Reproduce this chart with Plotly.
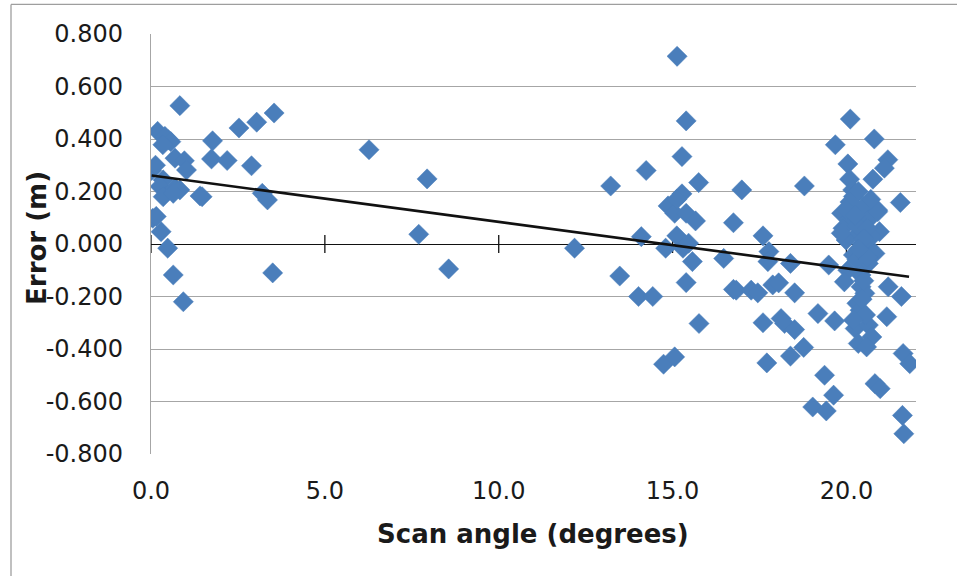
import plotly.graph_objects as go

# ---- data ----
scan_angle = [
    0.83, 0.19, 0.50, 0.40, 0.57, 0.34, 2.53, 3.04, 3.54, 1.77, 1.74, 2.19, 2.89,
    0.69, 0.96, 1.02, 0.02, 0.13, 0.35, 0.26, 0.69, 0.83, 0.35, 0.64, 1.41, 1.47,
    3.20, 3.35, 0.05, 0.15, 0.29, 0.48, 0.64, 0.93, 3.50,
    6.27, 7.94, 7.70, 8.56, 12.18, 13.22,
    15.13, 15.39, 15.27, 14.24, 15.75, 15.27, 14.87, 15.06, 15.39, 15.66, 15.12,
    16.75, 14.10, 15.12, 14.80, 15.30, 15.46, 15.57, 16.47, 13.48, 14.02, 14.43,
    15.39, 15.76, 14.74, 15.06, 16.99, 16.75,
    18.79, 19.68, 17.60, 17.77, 17.74, 18.39, 19.49, 16.83, 17.26, 17.45, 17.88,
    18.05, 18.51, 17.60, 18.12, 18.22, 18.51, 19.18, 19.66, 17.71, 18.39, 18.77,
    19.37, 19.63, 19.03, 19.42,
    20.11, 20.80, 21.19, 21.09, 20.76, 20.04, 20.09, 20.18, 21.55,
    20.20, 20.34, 19.86, 20.90, 20.49, 20.10, 20.63, 19.90, 20.95, 20.34, 20.73,
    19.99, 20.53, 20.82, 20.20, 20.63, 20.04, 20.42, 19.94, 21.20, 20.42, 21.58,
    20.53, 20.30, 20.39, 21.16, 20.25, 20.63, 20.73, 20.34, 20.58, 21.63, 21.82,
    20.82, 20.97, 21.61, 21.65, 20.90, 19.85,
    20.10, 20.30, 20.45, 20.30, 20.60, 20.50, 20.45, 20.55, 20.20, 20.70, 20.00,
    20.60, 20.25, 20.50, 20.35,
]
error_m = [
    0.527, 0.429, 0.397, 0.410, 0.390, 0.378, 0.442, 0.464, 0.499, 0.393, 0.324,
    0.318, 0.298, 0.327, 0.317, 0.282, 0.280, 0.300, 0.244, 0.219, 0.213, 0.206,
    0.180, 0.193, 0.183, 0.180, 0.193, 0.168, 0.098, 0.105, 0.047, -0.016, -0.118,
    -0.220, -0.110,
    0.359, 0.248, 0.037, -0.095, -0.016, 0.221,
    0.715, 0.469, 0.333, 0.280, 0.234, 0.191, 0.145, 0.117, 0.117, 0.088, 0.170,
    0.081, 0.028, 0.031, -0.016, -0.016, 0.003, -0.067, -0.055, -0.122, -0.200,
    -0.200, -0.147, -0.303, -0.458, -0.430, 0.206, -0.173,
    0.221, 0.378, 0.031, -0.029, -0.067, -0.074, -0.080, -0.176, -0.176, -0.186,
    -0.156, -0.148, -0.186, -0.300, -0.284, -0.303, -0.326, -0.265, -0.293,
    -0.453, -0.427, -0.394, -0.500, -0.576, -0.621, -0.636,
    0.476, 0.400, 0.321, 0.289, 0.247, 0.305, 0.247, 0.206, 0.158,
    0.181, 0.200, 0.117, 0.129, 0.142, 0.098, 0.092, 0.060, 0.047, 0.040, 0.028,
    0.015, -0.011, -0.036, -0.042, -0.074, -0.100, -0.118, -0.144, -0.163, -0.163,
    -0.200, -0.188, -0.226, -0.252, -0.277, -0.322, -0.309, -0.354, -0.379,
    -0.392, -0.417, -0.456, -0.532, -0.551, -0.653, -0.723, 0.123, 0.041,
    0.160, 0.070, 0.000, -0.060, 0.060, -0.140, -0.210, -0.270, -0.290, 0.170,
    0.130, -0.050, 0.110, 0.020, -0.020,
]
trend_x = [0.02, 21.80]
trend_y = [0.261, -0.125]

x_ticks = [0, 5, 10, 15, 20]
x_tick_text = ["0.0", "5.0", "10.0", "15.0", "20.0"]
y_ticks = [-0.8, -0.6, -0.4, -0.2, 0.0, 0.2, 0.4, 0.6, 0.8]
y_tick_text = ["-0.800", "-0.600", "-0.400", "-0.200", "0.000",
               "0.200", "0.400", "0.600", "0.800"]

x_title = "Scan angle (degrees)"
y_title = "Error (m)"

FONT = "DejaVu Sans"
TXT = "#1A1A1A"
BLUE = "#4A7EBB"
GRID = "#A6A6A6"

fig = go.Figure()
fig.add_trace(go.Scatter(
    x=scan_angle, y=error_m, mode="markers",
    marker=dict(symbol="diamond", size=15.5, color=BLUE,
                line=dict(width=0.5, color=BLUE)),
    showlegend=False, hoverinfo="x+y",
))
fig.add_trace(go.Scatter(
    x=trend_x, y=trend_y, mode="lines",
    line=dict(color="#111111", width=2.6),
    showlegend=False, hoverinfo="skip",
))

# cross tick marks on the zero line
for t in x_ticks:
    fig.add_shape(type="line", xref="x", yref="y", x0=t, x1=t,
                  ysizemode="pixel", yanchor=0, y0=-9, y1=9,
                  line=dict(color="#111111", width=1.3), layer="below")

# outer chart-area border (top and left)
fig.add_shape(type="line", xref="paper", yref="paper",
              x0=-0.183, x1=1.2, y0=1.0705, y1=1.0705,
              line=dict(color="#9E9E9E", width=1.3))
fig.add_shape(type="line", xref="paper", yref="paper",
              x0=-0.183, x1=-0.183, y0=-0.4, y1=1.0705,
              line=dict(color="#9E9E9E", width=1.3))

fig.update_layout(
    width=957, height=576,
    margin=dict(l=151, r=41, t=34, b=122),
    paper_bgcolor="white", plot_bgcolor="white",
    font=dict(family=FONT, size=24, color=TXT),
    xaxis=dict(
        range=[0, 22], tickvals=x_ticks, ticktext=x_tick_text,
        showgrid=False, zeroline=False, showline=False, ticks="",
        ticklabelstandoff=20, tickfont=dict(size=24, family=FONT, color=TXT),
    ),
    yaxis=dict(
        range=[-0.8, 0.8], tickvals=y_ticks, ticktext=y_tick_text,
        showgrid=True, gridcolor=GRID, gridwidth=1.4,
        zeroline=True, zerolinecolor="#111111", zerolinewidth=1.4,
        showline=True, linecolor=GRID, linewidth=1.4, ticks="",
        ticklabelstandoff=22, tickfont=dict(size=24, family=FONT, color=TXT),
    ),
    annotations=[
        dict(text="<b>" + x_title + "</b>", xref="paper", yref="paper",
             x=0.4993, y=-0.19, xanchor="center", yanchor="middle",
             showarrow=False, font=dict(family=FONT, size=26, color=TXT)),
        dict(text="<b>" + y_title + "</b>", xref="paper", yref="paper",
             x=-0.150, y=0.515, xanchor="center", yanchor="middle",
             textangle=-90, showarrow=False,
             font=dict(family=FONT, size=26, color=TXT)),
    ],
)

fig.write_html("out.html")
